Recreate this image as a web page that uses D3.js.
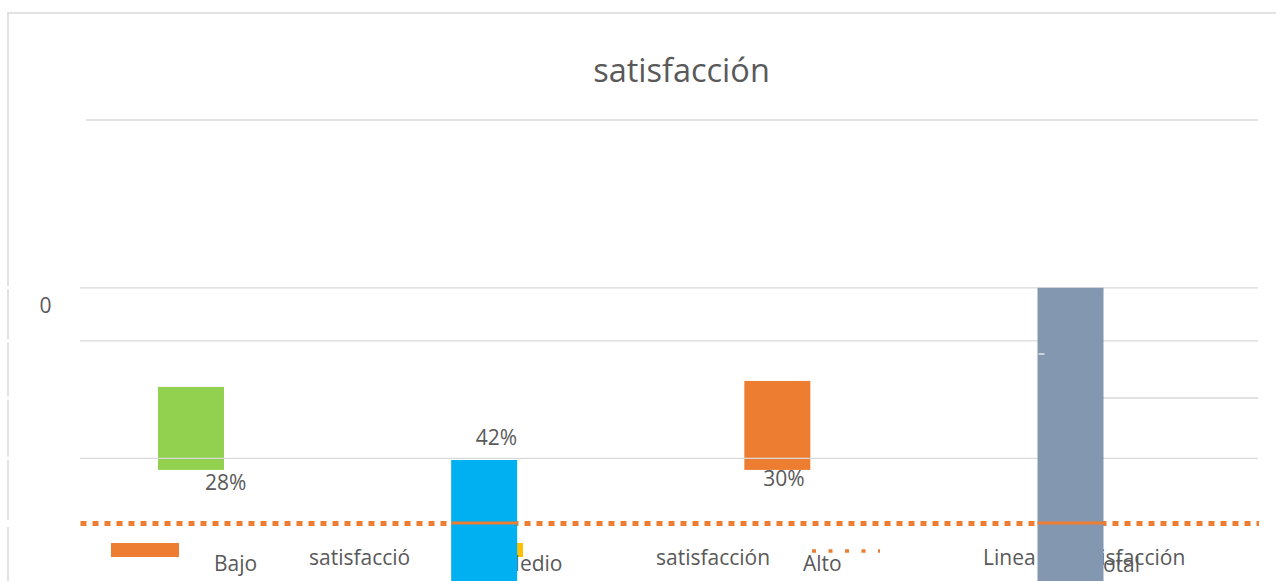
<!DOCTYPE html>
<html>
<head>
<meta charset="utf-8">
<script src="https://cdn.jsdelivr.net/npm/d3@7"></script>
<style>
  html, body { margin: 0; padding: 0; background: #fff; }
  svg { display: block; }
  text { font-family: "Open Sans", sans-serif; fill: #595959; }
</style>
</head>
<body>
<svg id="chart" width="1276" height="581"></svg>
<script>

// タイトル
const title = "satisfacción";

// カテゴリ
const categories = ["Bajo", "Medio", "Alto", "Total"];

// 表示されている値 (%)
const percentCats = ["Bajo", "Medio", "Alto"];
const percentValues = [28, 42, 30];

// 棒の上端・下端 (画像から読んだ値)
const barTop = [0.421, 0.2625, 0.434, 0.636];
const barBase = [0.241, -0.03, 0.241, -0.03];
const barColors = ["#92D050", "#00B0F0", "#ED7D31", "#8497B0"];

// 目盛り
const gridValues = [1.0, 0.636, 0.521, 0.397, 0.266];
const yTickValues = [0.598];
const yTickLabels = ["0"];

// Linea de satisfacción Total
const lineValue = 0.126;

// 凡例
const legendNames = ["Bajo", "Medio", "Alto", "Total"];
const legendWords = ["satisfacció", "satisfacción", "Linea de satisfacción"];

const svg = d3.select("#chart");
const W = 1276, H = 581;

// スケール
const x = d3.scalePoint().domain(categories).range([191, 1070.5]);
const y = d3.scaleLinear().domain([0, 1]).range([581, 120]);
const barW = 66;
const grid = "#d9d9d9";
const orange = "#ED7D31";

// 外枠 (左側はグリッド線の位置で途切れている)
svg.append("line")
  .attr("x1", 7).attr("x2", W).attr("y1", 13).attr("y2", 13)
  .attr("stroke", grid).attr("stroke-width", 1.5);
let gaps = gridValues.slice(1).map(v => [y(v) - 1.5, y(v) + 1.5]);
gaps.push([y(lineValue) - 3, y(lineValue) + 4]);
let segs = [];
let start = 13;
gaps.forEach(g => { segs.push([start, g[0]]); start = g[1]; });
segs.push([start, H]);
svg.append("g").selectAll("line")
  .data(segs).enter().append("line")
  .attr("x1", 8).attr("x2", 8)
  .attr("y1", d => d[0]).attr("y2", d => d[1])
  .attr("stroke", grid).attr("stroke-width", 1.5);

// 棒を描く関数
function drawBars(idx) {
  svg.append("g").selectAll("rect")
    .data(idx).enter().append("rect")
    .attr("x", i => x(categories[i]) - barW / 2)
    .attr("width", barW)
    .attr("y", i => y(barTop[i]))
    .attr("height", i => y(barBase[i]) - y(barTop[i]))
    .attr("fill", i => barColors[i]);
}

// 後ろ側の棒
drawBars([0, 2]);

// グリッド線
const gridX0 = [86, 80, 80, 1103, 80];
svg.append("g").selectAll("line")
  .data(gridValues).enter().append("line")
  .attr("x1", (d, i) => gridX0[i]).attr("x2", 1258)
  .attr("y1", d => y(d)).attr("y2", d => y(d))
  .attr("stroke", grid).attr("stroke-width", 1.3);

// タイトル
svg.append("text")
  .attr("x", 681.5).attr("y", 82)
  .attr("text-anchor", "middle")
  .attr("font-size", "32.5px")
  .text(title);

// y 軸ラベル
const yAxis = d3.axisLeft(y)
  .tickValues(yTickValues)
  .tickFormat((d, i) => yTickLabels[i])
  .tickSize(0).tickPadding(0);
const ya = svg.append("g").attr("transform", "translate(52,0)").call(yAxis);
ya.select(".domain").remove();
ya.selectAll("text")
  .attr("font-family", "Open Sans")
  .attr("font-size", "21px")
  .attr("fill", "#595959")
  .attr("text-anchor", "middle")
  .attr("x", -6.5);

// 値ラベル (位置は微調整)
const labelDx = [14, -8.5, -14];
const labelAnchor = ["base", "top", "base"];
const labelDy = [20, -15, 16];
svg.append("g").selectAll("text")
  .data(percentValues).enter().append("text")
  .attr("x", (d, i) => x(percentCats[i]) + labelDx[i])
  .attr("y", (d, i) => {
    let ci = categories.indexOf(percentCats[i]);
    let ref = labelAnchor[i] === "top" ? y(barTop[ci]) : y(barBase[ci]);
    return ref + labelDy[i];
  })
  .attr("font-size", "21px")
  .text(d => d + "%");

// 点線 (Linea de satisfacción Total)
svg.append("line")
  .attr("x1", 80.5).attr("x2", 1259)
  .attr("y1", y(lineValue) + 0.5).attr("y2", y(lineValue) + 0.5)
  .attr("stroke", orange).attr("stroke-width", 5)
  .attr("stroke-dasharray", "6 6");

// 凡例
let lg = svg.append("g").attr("class", "legend");
lg.append("rect").attr("x", 111).attr("y", 543).attr("width", 68).attr("height", 14).attr("fill", orange);
lg.append("rect").attr("x", 455).attr("y", 543).attr("width", 68).attr("height", 14).attr("fill", "#FFC000");
lg.append("line")
  .attr("x1", 812).attr("x2", 880).attr("y1", 551).attr("y2", 551)
  .attr("stroke", orange).attr("stroke-width", 3.5)
  .attr("stroke-dasharray", "4 12.5");
const nameX = [214, 501, 803];
lg.selectAll("text.name")
  .data(legendNames.slice(0, 3)).enter().append("text")
  .attr("class", "name")
  .attr("x", (d, i) => nameX[i]).attr("y", 571)
  .attr("font-size", "21px")
  .text(d => d);
const wordX = [309, 656, 983];
lg.selectAll("text.word")
  .data(legendWords).enter().append("text")
  .attr("class", "word")
  .attr("x", (d, i) => wordX[i]).attr("y", 565)
  .attr("font-size", "21px")
  .text(d => d);
lg.append("text")
  .attr("x", 1140).attr("y", 572)
  .attr("text-anchor", "end")
  .attr("font-size", "21px")
  .text(legendNames[3]);

// 前側の棒
drawBars([1, 3]);

// 棒の上を通る実線部分
svg.append("g").selectAll("line")
  .data([1, 3]).enter().append("line")
  .attr("x1", i => x(categories[i]) - barW / 2)
  .attr("x2", i => x(categories[i]) + barW / 2)
  .attr("y1", y(lineValue)).attr("y2", y(lineValue))
  .attr("stroke", orange).attr("stroke-width", 3);

// 灰色の棒の上の小さな目盛り
svg.append("line")
  .attr("x1", x("Total") - barW / 2 + 1).attr("x2", x("Total") - barW / 2 + 7)
  .attr("y1", 354).attr("y2", 354)
  .attr("stroke", "#e6e6e6").attr("stroke-width", 1.5);

</script>
</body>
</html>
